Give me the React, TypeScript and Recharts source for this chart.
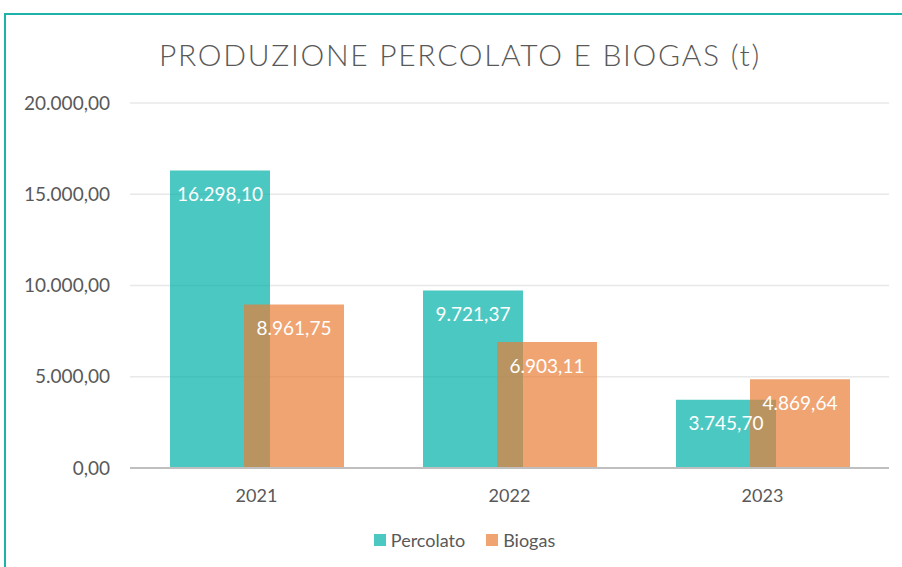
import React from 'react';
import { BarChart, Bar, XAxis, YAxis, CartesianGrid, Legend, LabelList } from 'recharts';

const years = ['2021', '2022', '2023'];
const percolato = [16298.1, 9721.37, 3745.7];
const biogas = [8961.75, 6903.11, 4869.64];
const yTicks = [0, 5000, 10000, 15000, 20000];

const data = years.map((year, i) => ({ year, Percolato: percolato[i], Biogas: biogas[i] }));

const series = [
  { key: 'Percolato', color: '#00B0A8' },
  { key: 'Biogas', color: '#E87D36' },
];

// formato italiano: 16.298,10
const fmt = (v: number) => {
  const [int, dec] = Number(v).toFixed(2).split('.');
  return int.replace(/\B(?=(\d{3})+(?!\d))/g, '.') + ',' + dec;
};

const FONT = 'Lato, "Open Sans", sans-serif';
const TEXT = '#595959';

const renderLegend = () => (
  <div style={{ display: 'flex', justifyContent: 'center', gap: 21, fontFamily: FONT, fontSize: 18, color: TEXT, paddingLeft: 27 }}>
    {series.map((s) => (
      <div key={s.key} style={{ display: 'flex', alignItems: 'center', gap: 5 }}>
        <div style={{ width: 12, height: 12, background: s.color, opacity: 0.7 }} />
        <span>{s.key}</span>
      </div>
    ))}
  </div>
);

export default function App() {
  return (
    <div style={{ position: 'absolute', left: 0, top: 0, width: 902, height: 567, overflow: 'hidden', background: '#fff', fontFamily: FONT }}>
      <div style={{ position: 'absolute', left: 4, top: 13, width: 920, height: 600, border: '2px solid #1DB3AB' }} />
      <div style={{ position: 'absolute', left: 0, top: 36, width: 920, textAlign: 'center', fontSize: 30, fontWeight: 300, color: TEXT, letterSpacing: 1.7 }}>
        PRODUZIONE PERCOLATO E BIOGAS (t)
      </div>
      <div style={{ position: 'absolute', left: 0, top: 0 }}>
        <BarChart width={902} height={567} data={data} margin={{ top: 103, right: 13, bottom: 45, left: 10 }} barSize={100} barGap={-26}>
          <CartesianGrid vertical={false} stroke="#E8E8E8" strokeWidth={1.5} />
          <XAxis dataKey="year" tickLine={false} tickSize={0} tickMargin={21} stroke="#BFBFBF" strokeWidth={2} height={30}
            tick={{ fill: TEXT, fontSize: 18, fontFamily: FONT }} />
          <YAxis width={120} domain={[0, 20000]} ticks={yTicks} axisLine={false} tickLine={false} tickSize={0} tickMargin={20}
            tickFormatter={fmt} tick={{ fill: TEXT, fontSize: 19, fontFamily: FONT }} />
          <Legend verticalAlign="bottom" content={renderLegend}
            wrapperStyle={{ top: 529, left: 0, width: 902, height: 24 }} />
          {series.map((s) => (
            <Bar key={s.key} dataKey={s.key} fill={s.color} fillOpacity={0.7} isAnimationActive={false}>
              <LabelList dataKey={s.key} position="insideTop" offset={17} fill="#fff" fontSize={19} fontFamily={FONT} formatter={fmt} />
            </Bar>
          ))}
        </BarChart>
      </div>
    </div>
  );
}
